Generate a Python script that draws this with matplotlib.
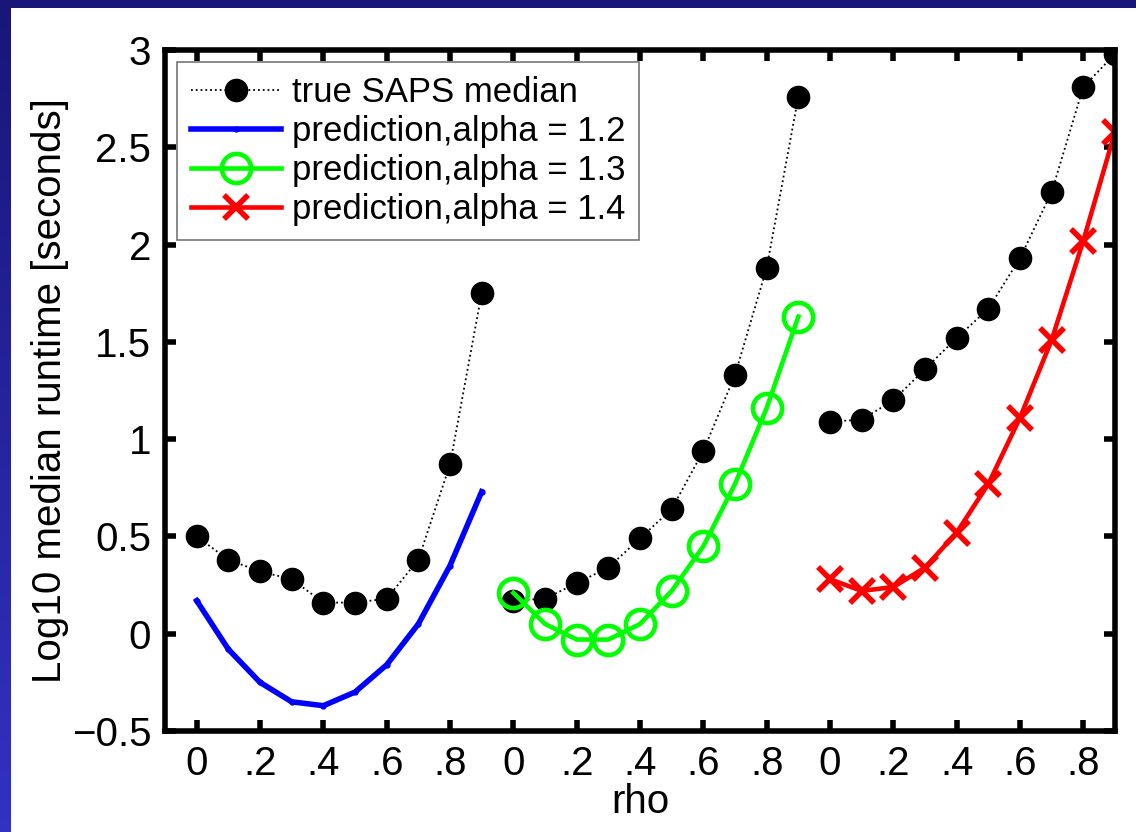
import numpy as np
import matplotlib
matplotlib.use('Agg')
import matplotlib.pyplot as plt

plt.rcParams['font.family'] = ['Liberation Sans', 'DejaVu Sans']

# rho values inside each group, three groups side by side
rho = [0.0, 0.1, 0.2, 0.3, 0.4, 0.5, 0.6, 0.7, 0.8, 0.9]
group_offset = [0, 10, 20]

# true SAPS median (log10 seconds), one list per group
true_g1 = [0.50, 0.38, 0.32, 0.28, 0.16, 0.16, 0.18, 0.38, 0.87, 1.75]
true_g2 = [0.17, 0.18, 0.26, 0.34, 0.49, 0.64, 0.94, 1.33, 1.88, 2.76]
true_g3 = [1.09, 1.10, 1.20, 1.36, 1.52, 1.67, 1.93, 2.27, 2.81, 2.98]

# predictions
pred_12 = [0.17, -0.08, -0.25, -0.35, -0.37, -0.30, -0.16, 0.05, 0.35, 0.73]
pred_13 = [0.21, 0.05, -0.03, -0.03, 0.05, 0.22, 0.45, 0.77, 1.16, 1.63]
pred_14 = [0.28, 0.22, 0.24, 0.34, 0.52, 0.77, 1.11, 1.51, 2.02, 2.58]

tick_labels = ['0', '.2', '.4', '.6', '.8']

W, H = 1136, 832
fig = plt.figure(figsize=(W / 100, H / 100), dpi=100, facecolor='white')

# slide frame: gradient strip on the left, dark strip on top
t = np.linspace(0, 1, H)[:, None, None]
top_c = np.array([24, 22, 120]) / 255
bot_c = np.array([50, 50, 195]) / 255
left = np.repeat(top_c + (bot_c - top_c) * t, 11, axis=1)
fig.figimage(left, xo=0, yo=0, origin='upper')
fig.figimage(np.tile(top_c, (8, W, 1)), xo=0, yo=H - 8, origin='upper')

ax = fig.add_axes([165 / W, 1 - 731 / H, 950 / W, 681 / H])

x = np.array(rho) * 10
dot_style = dict(color='black', lw=1.3, ls=':', marker='o', ms=16)
ax.plot(x + group_offset[0], true_g1, label='true SAPS median', **dot_style)
ax.plot(x + group_offset[1], true_g2, **dot_style)
ax.plot(x + group_offset[2], true_g3, **dot_style)

ax.plot(x + group_offset[0], pred_12, '-', color='#0000ff', lw=4, marker='.', ms=7,
        label='prediction,alpha = 1.2')
ax.plot(x + group_offset[1], pred_13, '-', color='#00ff00', lw=3.3, marker='o', ms=21,
        mfc='none', mew=3.3, label='prediction,alpha = 1.3')
ax.plot(x + group_offset[2], pred_14, '-', color='#ff0000', lw=3.3, marker='x', ms=17,
        mew=4, label='prediction,alpha = 1.4')

ax.set_xlim(-1, 29)
ax.set_ylim(-0.5, 3)
ticks = [g + v for g in group_offset for v in [0, 2, 4, 6, 8]]
ax.set_xticks(ticks)
ax.set_xticklabels(tick_labels * 3)
ax.set_yticks([-0.5, 0, 0.5, 1, 1.5, 2, 2.5, 3])
ax.set_yticklabels(['\u22120.5', '0', '0.5', '1', '1.5', '2', '2.5', '3'])
ax.tick_params(direction='in', length=8, width=4, labelsize=29, top=True, right=True,
               pad=10)
for s in ax.spines.values():
    s.set_linewidth(4)

ax.set_xlabel('rho', fontsize=29, labelpad=0)
ax.set_ylabel('Log10 median runtime [seconds]', fontsize=29, labelpad=2)

leg = ax.legend(loc='upper left', fontsize=25, frameon=True, fancybox=False,
                handlelength=2.6, borderaxespad=0.35, borderpad=0.4, labelspacing=0.17,
                handletextpad=0.3)
leg.get_frame().set_edgecolor('#555555')
leg.get_frame().set_linewidth(1.2)

fig.savefig('out.png', dpi=100, facecolor=fig.get_facecolor())
